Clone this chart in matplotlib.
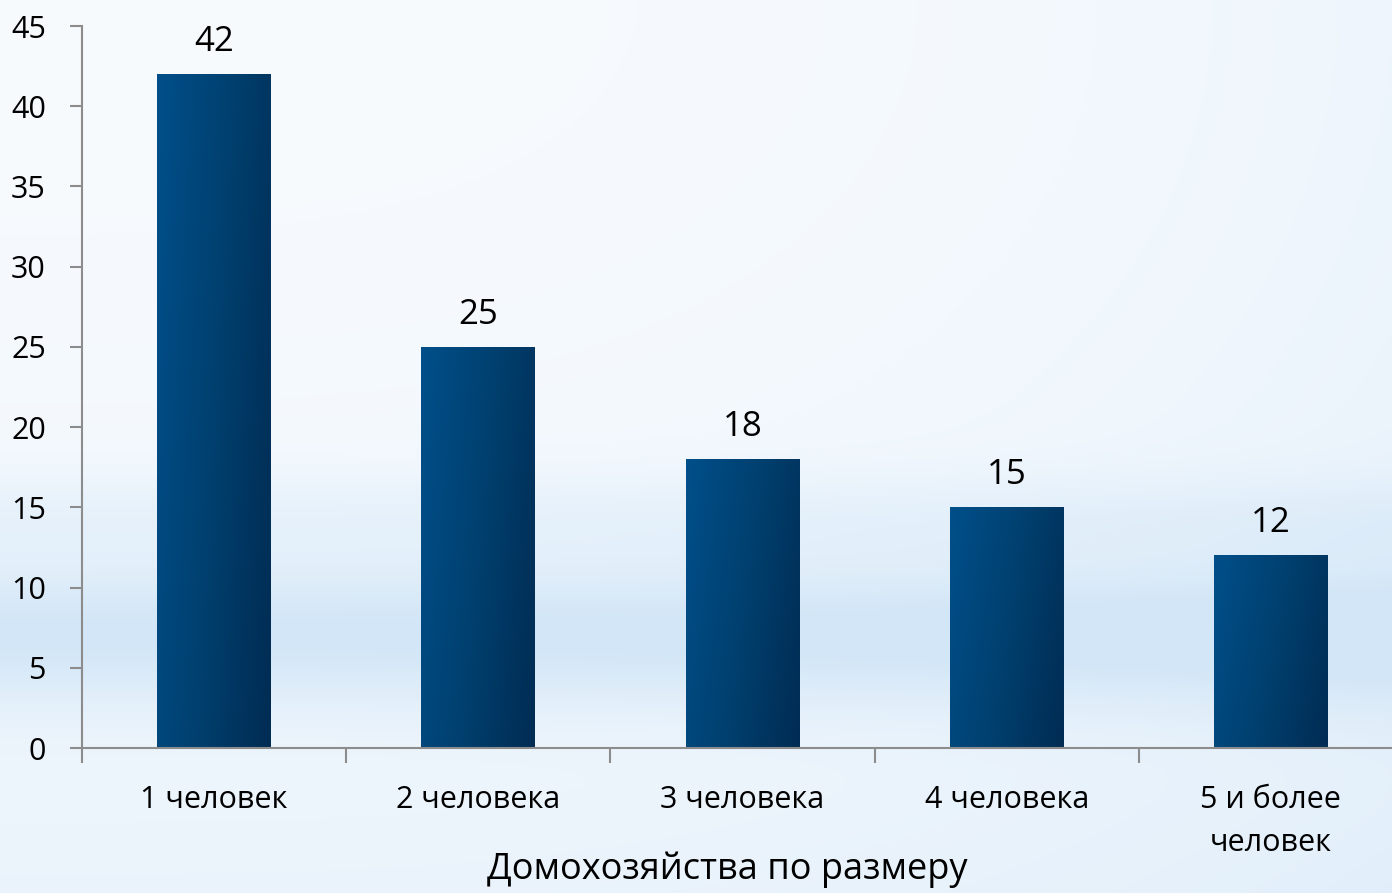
import numpy as np
import matplotlib
matplotlib.use("Agg")
import matplotlib.pyplot as plt
from matplotlib.colors import LinearSegmentedColormap
from matplotlib.patches import Rectangle

categories = ["1 человек", "2 человека", "3 человека", "4 человека", "5 и более\nчеловек"]
values = [42, 25, 18, 15, 12]
yticks = [0, 5, 10, 15, 20, 25, 30, 35, 40, 45]
xlabel = "Домохозяйства по размеру"

plt.rcParams['font.family'] = ['Open Sans', 'DejaVu Sans']

fig = plt.figure(figsize=(13.92, 8.93), dpi=100)

# background gradient
bg = fig.add_axes([0, 0, 1, 1], zorder=-10)
bg.set_axis_off()
ny, nx = 400, 300
yy = np.linspace(0, 1, ny)[:, None]  # 0 top, 1 bottom
xx = np.linspace(0, 1, nx)[None, :]
band = np.exp(-((yy - 0.71) / 0.08) ** 2) * 0.85 + np.exp(-((yy - 0.58) / 0.05) ** 2) * 0.3
band = band + 0.35 * yy ** 2 + 0.25 * xx ** 3
band = np.clip(band, 0, 1)
top = np.array([0.968, 0.982, 0.996])
blue = np.array([0.83, 0.905, 0.97])
img = top[None, None, :] * (1 - band[..., None]) + blue[None, None, :] * band[..., None]
bg.imshow(img, aspect='auto', extent=[0, 1, 0, 1], origin='upper')
bg.set_xlim(0, 1); bg.set_ylim(0, 1)

ax = fig.add_axes([82/1392, 145/893, (1403-82)/1392, (748-26)/893])
ax.patch.set_alpha(0)
x = np.arange(len(categories))
width = 0.43
bars = ax.bar(x, values, width=width, color='none', edgecolor='none', zorder=2)

cmap = LinearSegmentedColormap.from_list('b', ['#004f8a', '#00406f', '#002c53'])
gx = np.linspace(0, 1, 200)[None, :]
gy = np.linspace(0, 1, 200)[:, None]
grad = 0.75 * gx + 0.25 * gy
for b in bars:
    x0, y0, w, h = b.get_x(), b.get_y(), b.get_width(), b.get_height()
    im = ax.imshow(grad, cmap=cmap, aspect='auto', extent=[x0, x0 + w, y0, y0 + h],
                   origin='upper', zorder=2, vmin=0, vmax=1)
    im.set_clip_path(Rectangle((x0, y0), w, h, transform=ax.transData))

for xi, v in zip(x, values):
    ax.text(xi, v + 0.95, str(v), ha='center', va='bottom', fontsize=25, color='black')

ax.set_xlim(-0.5, len(categories) - 0.5)
ax.set_ylim(0, 45)
ax.set_yticks(yticks)
ax.set_yticklabels([str(t) for t in yticks], fontsize=22)
ax.set_xticks(x)
ax.set_xticklabels(categories, fontsize=22, linespacing=1.55)
ax.set_xticks(np.arange(len(categories)) - 0.5, minor=True)
ax.tick_params(axis='x', which='major', length=0, pad=27)
ax.tick_params(axis='x', which='minor', length=11, color='#8c8c8c', width=1.5)
ax.tick_params(axis='y', length=9, color='#8c8c8c', width=1.5, pad=17)
for s in ['top', 'right']:
    ax.spines[s].set_visible(False)
for s in ['left', 'bottom']:
    ax.spines[s].set_color('#8c8c8c')
    ax.spines[s].set_linewidth(1.5)
ax.set_xlabel(xlabel, fontsize=26)
ax.xaxis.set_label_coords((727 - 82) / (1403 - 82), -0.143)
ax.xaxis.label.set_va('top')

fig.savefig("out.png", dpi=100)
